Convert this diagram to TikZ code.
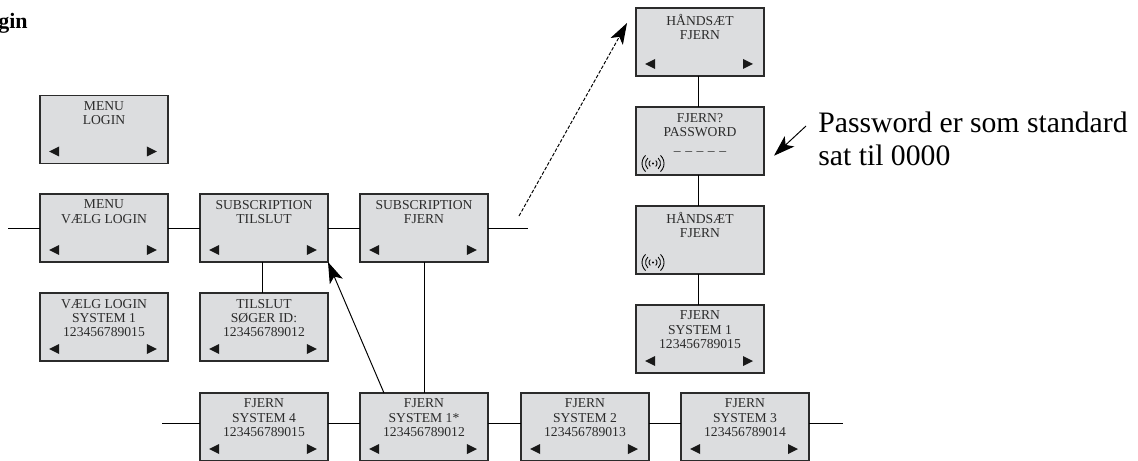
\documentclass[tikz,border=0pt]{standalone}
\usepackage{fontspec}
\setmainfont{Liberation Serif}
\usetikzlibrary{arrows.meta}
\definecolor{screengray}{HTML}{DCDDDF}
\definecolor{inkgray}{HTML}{2B2B2B}
\tikzset{
  screen/.style={draw=inkgray,fill=screengray,line width=0.6pt,minimum width=2.56cm,minimum height=1.36cm,inner sep=0pt,outer sep=0pt},
  screentext/.style={anchor=north,align=center,inner sep=0pt,yshift=-3.2pt,text=inkgray,font=\fontsize{7.75}{8.2}\selectfont},
  wire/.style={draw=black,line width=0.55pt},
  bigtip/.style={-{Stealth[length=12pt,width=8pt,inset=3pt]}}
}
\newcommand{\navkeys}[1]{
\fill [black!90] (#1.south west) ++(9,12) -- ++(10,5) -- ++(0,-10) -- cycle;
\fill [black!90] (#1.south east) ++(-11,12) -- ++(-10,5) -- ++(0,-10) -- cycle;
}
\newcommand{\radioicon}[1]{
\fill [black] (#1.south west) ++(17,11.5) circle (1.2);
\foreach \r in {4,7.5,11} {
\draw [black,line width=0.5pt] (#1.south west) ++(17,11.5) ++(47:\r) arc (47:-47:\r);
\draw [black,line width=0.5pt] (#1.south west) ++(17,11.5) ++(133:\r) arc (133:227:\r);
}
}
\begin{document}
\begin{tikzpicture}[x=0.02cm,y=0.02cm]
\useasboundingbox (0,0) rectangle (1138,-460);
\node (title) [anchor=base east,inner sep=0pt,font=\fontsize{12.5}{14}\selectfont\bfseries] at (28,-28) {Login};
% left column and top row
\node (menulogin) [screen] at (104,-129.5) {};
\node (menuvaelg) [screen] at (104,-228) {};
\node (subtilslut) [screen] at (264,-228) {};
\node (subfjern) [screen] at (424,-228) {};
\node (vaelgsys) [screen] at (104,-327) {};
\node (soeger) [screen] at (264,-327) {};
% bottom row
\node (fjern4) [screen] at (264,-427) {};
\node (fjern1) [screen] at (424,-427) {};
\node (fjern2) [screen] at (585,-427) {};
\node (fjern3) [screen] at (745,-427) {};
% right column
\node (hfjern) [screen] at (700,-42) {};
\node (pword) [screen] at (700,-141) {};
\node (hradio) [screen] at (700,-240) {};
\node (fjernsys) [screen] at (700,-339) {};
\node at (menulogin.north) [screentext] {MENU\\LOGIN};
\node at (menuvaelg.north) [screentext] {MENU\\VÆLG LOGIN};
\node at (subtilslut.north) [screentext] {SUBSCRIPTION\\TILSLUT};
\node at (subfjern.north) [screentext] {SUBSCRIPTION\\FJERN};
\node at (vaelgsys.north) [screentext] {VÆLG LOGIN\\SYSTEM 1\\123456789015};
\node at (soeger.north) [screentext] {TILSLUT\\SØGER ID:\\123456789012};
\node at (fjern4.north) [screentext] {FJERN\\SYSTEM 4\\123456789015};
\node at (fjern1.north) [screentext] {FJERN\\SYSTEM 1*\\123456789012};
\node at (fjern2.north) [screentext] {FJERN\\SYSTEM 2\\123456789013};
\node at (fjern3.north) [screentext] {FJERN\\SYSTEM 3\\123456789014};
\node at (hfjern.north) [screentext] {HÅNDSÆT\\FJERN};
\node at (pword.north) [screentext] {FJERN?\\PASSWORD\\\_\,\,\_\,\,\_\,\,\_\,\,\_};
\node at (hradio.north) [screentext] {HÅNDSÆT\\FJERN};
\node at (fjernsys.north) [screentext] {FJERN\\SYSTEM 1\\123456789015};
\foreach \n in {menulogin,menuvaelg,subtilslut,subfjern,vaelgsys,soeger,fjern4,fjern1,fjern2,fjern3,hfjern,fjernsys} {
\navkeys{\n}
}
\radioicon{pword}
\radioicon{hradio}
% free ends and helpers
\coordinate (leftend) at (8,-228);
\coordinate (rightend) at (528,-228);
\coordinate (fleft) at (162,-423);
\coordinate (fright) at (843,-423);
\coordinate (tdrop) at (262,0);
\coordinate (hdrop) at (698,0);
\coordinate (dashtail) at (519,-216);
\coordinate (dashtip) at (627,-23);
\coordinate (notetail) at (806,-126);
\coordinate (notetip) at (774,-155.7);
\draw [wire] (leftend) -- (menuvaelg);
\draw [wire] (menuvaelg) -- (subtilslut);
\draw [wire] (subtilslut) -- (subfjern);
\draw [wire] (subfjern) -- (rightend);
\draw [wire] (subtilslut.south -| tdrop) -- (soeger.north -| tdrop);
\draw [wire] (subfjern) -- (fjern1);
\draw [wire] (fleft) -- (fjern4.west |- fleft);
\draw [wire] (fjern4.east |- fleft) -- (fjern1.west |- fleft);
\draw [wire] (fjern1.east |- fleft) -- (fjern2.west |- fleft);
\draw [wire] (fjern2.east |- fleft) -- (fjern3.west |- fleft);
\draw [wire] (fjern3.east |- fleft) -- (fright);
\draw [wire] (hfjern.south -| hdrop) -- (pword.north -| hdrop);
\draw [wire] (pword.south -| hdrop) -- (hradio.north -| hdrop);
\draw [wire] (hradio.south -| hdrop) -- (fjernsys.north -| hdrop);
\draw [wire,bigtip] ([xshift=0.48cm]fjern1.north west) -- (subtilslut.south east);
\draw [wire,bigtip,dash pattern=on 2pt off 1pt] (dashtail) -- (dashtip);
\draw [wire,bigtip] (notetail) -- (notetip);
\node (pwnote) [anchor=north west,align=left,inner sep=0pt,font=\fontsize{16.9}{18.4}\selectfont] at (818,-112) {Password er som standard\\sat til 0000};
\end{tikzpicture}
\end{document}
